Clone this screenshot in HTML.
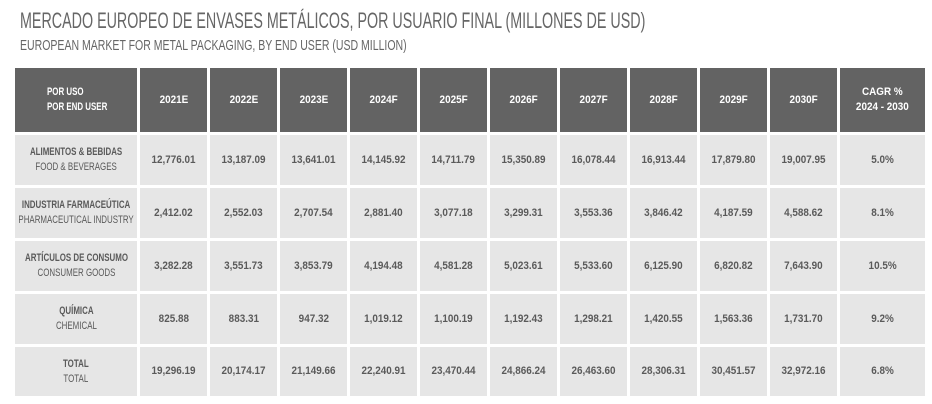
<!DOCTYPE html>
<html><head><meta charset="utf-8"><style>
body{margin:0;width:932px;height:404px;background:#fff;position:relative;overflow:hidden;font-family:"Liberation Sans",sans-serif;color:#5a5a5a}
.t1{position:absolute;left:20px;top:8px;font-size:22px;color:#666;white-space:nowrap;transform:scaleX(0.65);transform-origin:left}
.t2{position:absolute;left:20px;top:38px;font-size:14.5px;color:#666;white-space:nowrap;transform:scaleX(0.726);transform-origin:left}
.c{position:absolute;display:flex;align-items:center;justify-content:center;text-align:center;font-size:11px;font-weight:bold;line-height:15px;white-space:nowrap}
.h{background:#636363;color:#fff}
.d{background:#e6e6e6;color:#5a5a5a}
.c span{display:inline-block;transform:scaleX(0.9)}
.c span.l{transform:scaleX(0.72)}
.n{font-weight:normal}
</style></head><body>
<div class="t1">MERCADO EUROPEO DE ENVASES METÁLICOS, POR USUARIO FINAL (MILLONES DE USD)</div>
<div class="t2">EUROPEAN MARKET FOR METAL PACKAGING, BY END USER (USD MILLION)</div>
<div id="g"></div>
<script>
var xs=[15,140,210,280,350,420,490,560,630,700,770,840],ws=[122,67,67,67,67,67,67,67,67,67,67,85];
var ys=[68,135,188,241,294,347],hs=[64,50,50,50,50,49];
var rows=[
["POR USO<br>POR END USER","2021E","2022E","2023E","2024F","2025F","2026F","2027F","2028F","2029F","2030F","CAGR %<br>2024 - 2030"],
["ALIMENTOS &amp; BEBIDAS<br><b class=n>FOOD &amp; BEVERAGES</b>","12,776.01","13,187.09","13,641.01","14,145.92","14,711.79","15,350.89","16,078.44","16,913.44","17,879.80","19,007.95","5.0%"],
["INDUSTRIA FARMACEÚTICA<br><b class=n>PHARMACEUTICAL INDUSTRY</b>","2,412.02","2,552.03","2,707.54","2,881.40","3,077.18","3,299.31","3,553.36","3,846.42","4,187.59","4,588.62","8.1%"],
["ARTÍCULOS DE CONSUMO<br><b class=n>CONSUMER GOODS</b>","3,282.28","3,551.73","3,853.79","4,194.48","4,581.28","5,023.61","5,533.60","6,125.90","6,820.82","7,643.90","10.5%"],
["QUÍMICA<br><b class=n>CHEMICAL</b>","825.88","883.31","947.32","1,019.12","1,100.19","1,192.43","1,298.21","1,420.55","1,563.36","1,731.70","9.2%"],
["TOTAL<br><b class=n>TOTAL</b>","19,296.19","20,174.17","21,149.66","22,240.91","23,470.44","24,866.24","26,463.60","28,306.31","30,451.57","32,972.16","6.8%"]];
var h="";
rows.forEach(function(r,i){r.forEach(function(v,j){
var st="left:"+xs[j]+"px;top:"+ys[i]+"px;width:"+ws[j]+"px;height:"+hs[i]+"px;";
var inner;
if(i==0&&j==0){st+="justify-content:flex-start;";inner='<span class="l" style="text-align:left;margin-left:32px;transform-origin:left">'+v+'</span>';}
else if(j==0) inner='<span class="l">'+v+'</span>';
else inner='<span>'+v+'</span>';
h+='<div class="c '+(i==0?'h':'d')+'" style="'+st+'">'+inner+'</div>';});});
document.getElementById('g').innerHTML=h;
</script>
</body></html>
